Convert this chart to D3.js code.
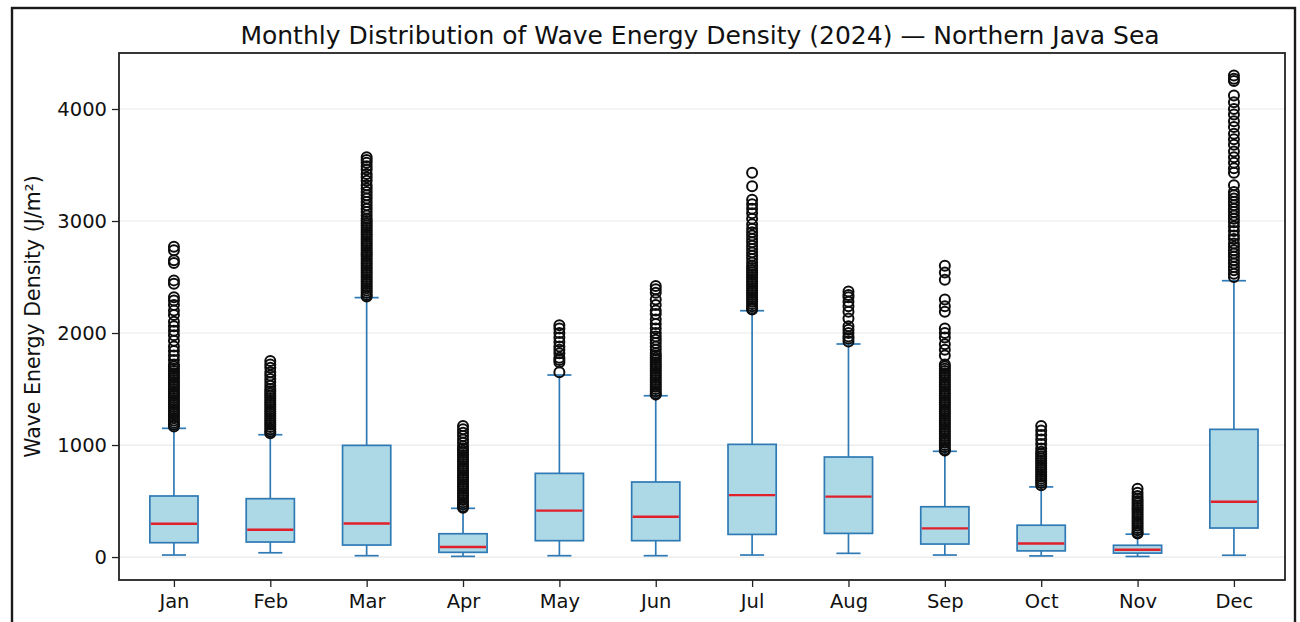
<!DOCTYPE html>
<html>
<head>
<meta charset="utf-8">
<script src="https://cdn.jsdelivr.net/npm/d3@7"></script>
<style>
  html, body { margin: 0; padding: 0; background: #fff; }
  svg { display: block; }
  text { font-family: "DejaVu Sans", sans-serif; fill: #111; }
</style>
</head>
<body>
<svg id="chart" width="1300" height="622"></svg>
<script>
// Monthly wave energy density box statistics (J/m²)
const months = ["Jan", "Feb", "Mar", "Apr", "May", "Jun", "Jul", "Aug", "Sep", "Oct", "Nov", "Dec"];
const q1 = [128, 134, 107, 42, 146, 146, 202, 211, 116, 55, 35, 259];
const medians = [297, 244, 300, 89, 414, 360, 553, 539, 256, 121, 65, 494];
const q3 = [545, 521, 997, 208, 747, 670, 1006, 893, 449, 284, 105, 1140];
const whiskerLow = [18, 38, 12, 6, 12, 12, 18, 33, 18, 10, 5, 16];
const whiskerHigh = [1149, 1092, 2316, 435, 1625, 1440, 2199, 1902, 944, 626, 204, 2467];

// Flier values beyond the upper whisker, per month
const fliersJan = [2770, 2740, 2650, 2625, 2470, 2440, 2320, 2290, 2250, 2200, 2160, 2100, 2060, 2020, 1980, 1930, 1880, 1840, 1800, 1760, 1720, 1700, 1680, 1660, 1640, 1620, 1600, 1580, 1560, 1540, 1520, 1500, 1480, 1460, 1440, 1420, 1400, 1380, 1360, 1340, 1320, 1300, 1280, 1260, 1240, 1220, 1200, 1180, 1165];
const fliersFeb = [1750, 1720, 1690, 1650, 1620, 1590, 1560, 1530, 1500, 1480, 1460, 1440, 1420, 1400, 1380, 1360, 1340, 1320, 1300, 1280, 1260, 1240, 1220, 1200, 1180, 1160, 1140, 1120, 1105];
const fliersMar = [3570, 3545, 3520, 3490, 3460, 3420, 3390, 3360, 3320, 3290, 3260, 3230, 3200, 3170, 3140, 3110, 3080, 3050, 3020, 3000, 2980, 2960, 2940, 2920, 2900, 2880, 2860, 2840, 2820, 2800, 2780, 2760, 2740, 2720, 2700, 2680, 2660, 2640, 2620, 2600, 2580, 2560, 2540, 2520, 2500, 2480, 2460, 2440, 2420, 2400, 2380, 2360, 2340, 2325];
const fliersApr = [1170, 1140, 1110, 1080, 1050, 1020, 990, 970, 950, 930, 910, 890, 870, 850, 830, 810, 790, 770, 750, 730, 710, 690, 670, 650, 630, 610, 590, 570, 550, 530, 510, 490, 470, 450, 440];
const fliersMay = [2070, 2040, 2000, 1960, 1920, 1880, 1850, 1820, 1780, 1760, 1740, 1650];
const fliersJun = [2420, 2390, 2360, 2300, 2250, 2200, 2170, 2120, 2080, 2040, 2000, 1970, 1940, 1910, 1880, 1850, 1820, 1800, 1780, 1760, 1740, 1720, 1700, 1680, 1660, 1640, 1620, 1600, 1580, 1560, 1540, 1520, 1500, 1480, 1460, 1450];
const fliersJul = [3430, 3310, 3190, 3150, 3110, 3070, 3020, 2970, 2930, 2900, 2870, 2840, 2810, 2780, 2750, 2720, 2690, 2660, 2630, 2600, 2580, 2560, 2540, 2520, 2500, 2480, 2460, 2440, 2420, 2400, 2380, 2360, 2340, 2320, 2300, 2280, 2260, 2240, 2220, 2210];
const fliersAug = [2370, 2340, 2320, 2280, 2240, 2190, 2130, 2060, 2030, 2000, 1970, 1950, 1925];
const fliersSep = [2600, 2540, 2475, 2300, 2240, 2190, 2040, 2000, 1960, 1900, 1850, 1800, 1720, 1700, 1680, 1660, 1640, 1620, 1600, 1580, 1560, 1540, 1520, 1500, 1480, 1460, 1440, 1420, 1400, 1380, 1360, 1340, 1320, 1300, 1280, 1260, 1240, 1220, 1200, 1180, 1160, 1140, 1120, 1100, 1080, 1060, 1040, 1020, 1000, 980, 960, 950];
const fliersOct = [1170, 1130, 1090, 1050, 1010, 970, 940, 920, 900, 880, 860, 840, 820, 800, 780, 760, 740, 720, 700, 680, 660, 640];
const fliersNov = [610, 575, 545, 520, 500, 480, 460, 440, 420, 400, 380, 360, 340, 320, 300, 280, 260, 240, 220, 210];
const fliersDec = [4300, 4270, 4250, 4120, 4060, 4000, 3950, 3890, 3840, 3780, 3730, 3680, 3620, 3570, 3520, 3470, 3430, 3320, 3260, 3230, 3200, 3170, 3140, 3110, 3080, 3050, 3020, 2990, 2950, 2910, 2870, 2840, 2800, 2770, 2740, 2710, 2680, 2650, 2620, 2590, 2560, 2530, 2500];
const fliers = [fliersJan, fliersFeb, fliersMar, fliersApr, fliersMay, fliersJun, fliersJul, fliersAug, fliersSep, fliersOct, fliersNov, fliersDec];

const yTicks = [0, 1000, 2000, 3000, 4000];

const boxes = months.map((m, i) => ({
  month: m, pos: i + 1,
  q1: q1[i], med: medians[i], q3: q3[i],
  lo: whiskerLow[i], hi: whiskerHigh[i], fliers: fliers[i]
}));

const svg = d3.select("#chart");
const plot = { left: 119, top: 53, right: 1285, bottom: 580 };

const x = d3.scaleLinear().domain([0.43, 12.53]).range([plot.left, plot.right]);
const y = d3.scaleLinear().domain([-205, 4500]).range([plot.bottom, plot.top]);
const boxHalf = (x(1.25) - x(1));
const capHalf = boxHalf / 2;

// figure frame
svg.append("rect")
  .attr("x", 12).attr("y", 8).attr("width", 1283).attr("height", 640)
  .attr("fill", "none").attr("stroke", "#1a1a1a").attr("stroke-width", 2.4);

// horizontal grid
svg.append("g").selectAll("line").data(yTicks).join("line")
  .attr("x1", plot.left).attr("x2", plot.right)
  .attr("y1", d => y(d)).attr("y2", d => y(d))
  .attr("stroke", "#e9e9e9").attr("stroke-width", 1.2);

// boxes
const g = svg.append("g");
const blue = "#2f7ab5";

const box = g.selectAll("g.box").data(boxes).join("g").attr("class", "box");

box.append("line")
  .attr("x1", d => x(d.pos)).attr("x2", d => x(d.pos))
  .attr("y1", d => y(d.lo)).attr("y2", d => y(d.q1))
  .attr("stroke", blue).attr("stroke-width", 1.7);
box.append("line")
  .attr("x1", d => x(d.pos)).attr("x2", d => x(d.pos))
  .attr("y1", d => y(d.q3)).attr("y2", d => y(d.hi))
  .attr("stroke", blue).attr("stroke-width", 1.7);
box.append("line")
  .attr("x1", d => x(d.pos) - capHalf).attr("x2", d => x(d.pos) + capHalf)
  .attr("y1", d => y(d.lo)).attr("y2", d => y(d.lo))
  .attr("stroke", blue).attr("stroke-width", 1.7);
box.append("line")
  .attr("x1", d => x(d.pos) - capHalf).attr("x2", d => x(d.pos) + capHalf)
  .attr("y1", d => y(d.hi)).attr("y2", d => y(d.hi))
  .attr("stroke", blue).attr("stroke-width", 1.7);
box.append("rect")
  .attr("x", d => x(d.pos) - boxHalf).attr("width", boxHalf * 2)
  .attr("y", d => y(d.q3)).attr("height", d => y(d.q1) - y(d.q3))
  .attr("fill", "#add8e6").attr("stroke", blue).attr("stroke-width", 1.7);
box.append("line")
  .attr("x1", d => x(d.pos) - boxHalf + 1).attr("x2", d => x(d.pos) + boxHalf - 1)
  .attr("y1", d => y(d.med)).attr("y2", d => y(d.med))
  .attr("stroke", "#e0202a").attr("stroke-width", 2.4);

// fliers
box.each(function(d) {
  d3.select(this).selectAll("circle").data(d.fliers).join("circle")
    .attr("cx", x(d.pos)).attr("cy", v => y(v)).attr("r", 5)
    .attr("fill", "none").attr("stroke", "#0d0d0d").attr("stroke-width", 2);
});

// axes
const yAxis = d3.axisLeft(y).tickValues(yTicks).tickSize(7).tickPadding(5).tickFormat(d3.format("d"));
const yG = svg.append("g").attr("transform", `translate(${plot.left},0)`).call(yAxis);
yG.select(".domain").remove();
yG.selectAll("text").style("font-size", "19.5px").attr("fill", "#111");
yG.selectAll("line").attr("stroke", "#222").attr("stroke-width", 1.3);

const xAxis = d3.axisBottom(x).tickValues(boxes.map(d => d.pos)).tickSize(7).tickPadding(7)
  .tickFormat((d, i) => months[i]);
const xG = svg.append("g").attr("transform", `translate(0,${plot.bottom})`).call(xAxis);
xG.select(".domain").remove();
xG.selectAll("text").style("font-size", "19.5px").attr("fill", "#111");
xG.selectAll("line").attr("stroke", "#222").attr("stroke-width", 1.3);

// plot frame
svg.append("rect")
  .attr("x", plot.left).attr("y", plot.top)
  .attr("width", plot.right - plot.left).attr("height", plot.bottom - plot.top)
  .attr("fill", "none").attr("stroke", "#222").attr("stroke-width", 1.8);

// title and axis label
svg.append("text")
  .attr("x", (plot.left + plot.right) / 2 - 2).attr("y", 44)
  .attr("text-anchor", "middle").style("font-size", "25px")
  .text("Monthly Distribution of Wave Energy Density (2024) — Northern Java Sea");

svg.append("text")
  .attr("transform", `translate(40,${(plot.top + plot.bottom) / 2}) rotate(-90)`)
  .attr("text-anchor", "middle").style("font-size", "20.5px")
  .text("Wave Energy Density (J/m²)");
</script>
</body>
</html>
